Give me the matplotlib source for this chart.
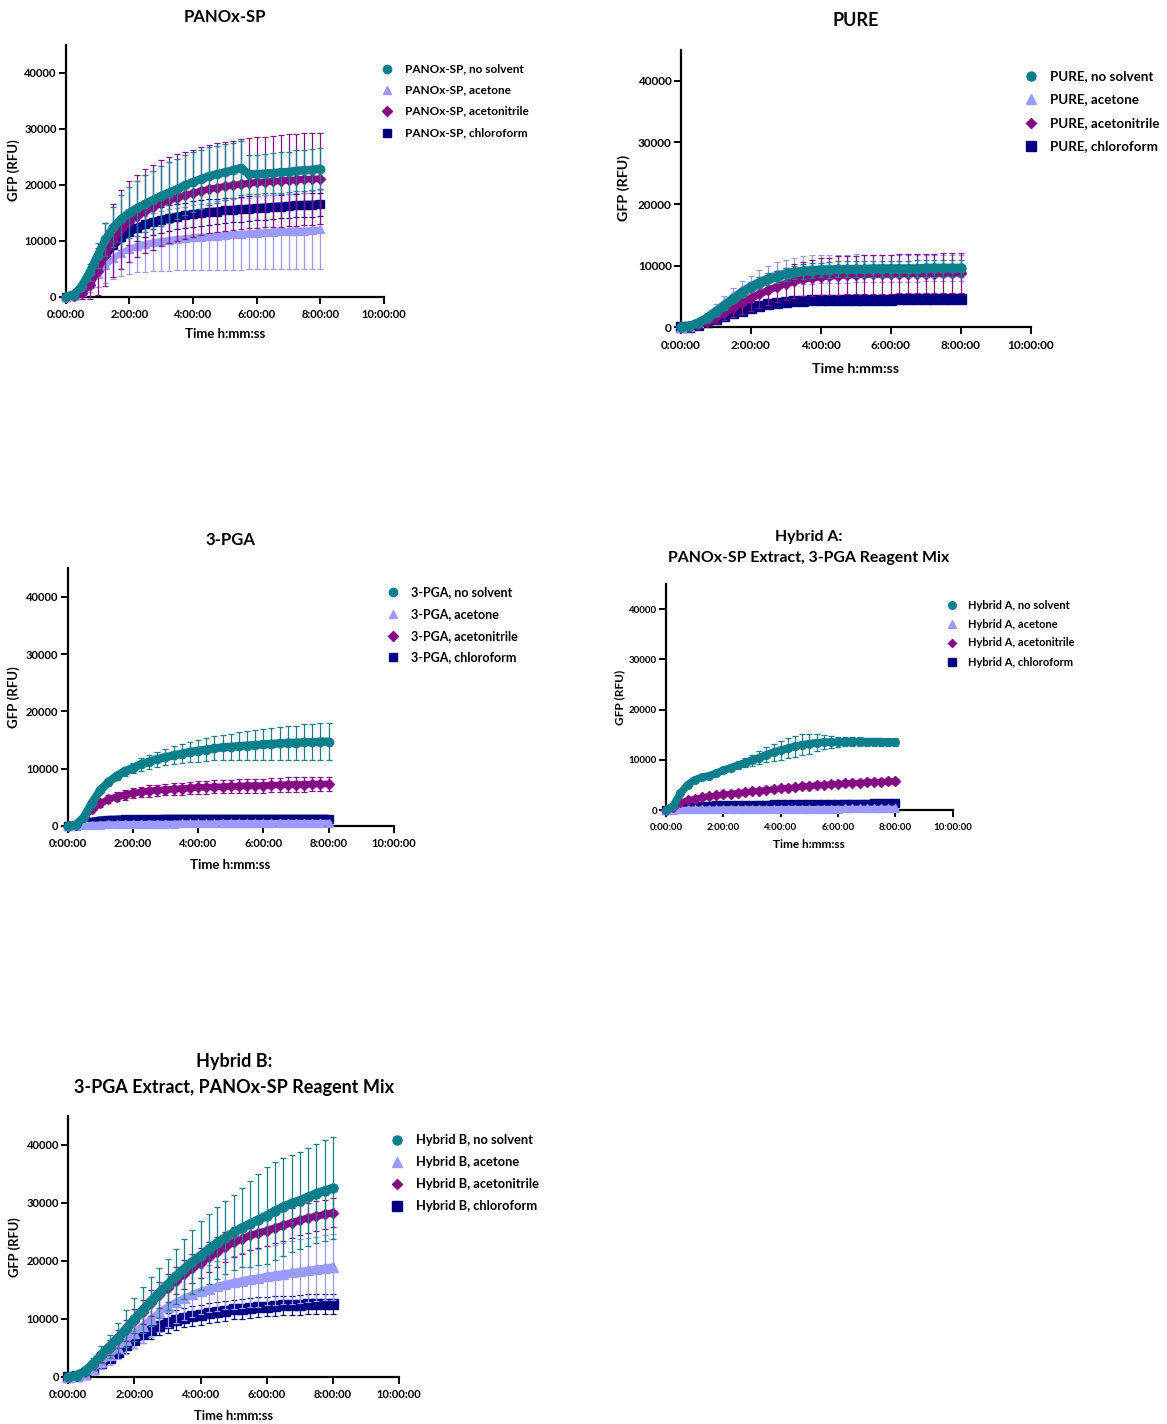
import numpy as np
import matplotlib.pyplot as plt
from matplotlib.lines import Line2D

plt.rcParams['font.family'] = ['Lato', 'DejaVu Sans']
plt.rcParams['font.weight'] = 'bold'

W, H = 1167, 1424

# time points (hours), one reading every 15 min
time_h = np.arange(0, 8.01, 0.25)
x_ticks = [0, 2, 4, 6, 8, 10]
x_ticklabels = ['0:00:00', '2:00:00', '4:00:00', '6:00:00', '8:00:00', '10:00:00']
y_ticks = [0, 10000, 20000, 30000, 40000]

conditions = ['no solvent', 'acetone', 'acetonitrile', 'chloroform']
colors = ['#0b7f8c', '#9b9bff', '#860a86', '#000080']
markers = ['o', '^', 'D', 's']

# ---- PANOx-SP ----
p1_none = [0, 300, 1800, 4300, 7300, 10200, 12400, 13900, 15000, 15800, 16600, 17300, 18000, 18600, 19200, 19900,
           20500, 21000, 21500, 21900, 22200, 22600, 23000, 21900, 21900, 22000, 22100, 22200, 22300, 22500, 22600,
           22700, 22900]
p1_none_sd = [100, 300, 800, 1500, 2200, 3000, 3600, 4200, 4600, 4900, 5100, 5200, 5300, 5400, 5400, 5400, 5400,
              5300, 5200, 5100, 5000, 4900, 4800, 3500, 3500, 3500, 3600, 3600, 3600, 3700, 3700, 3700, 3700]
p1_acetone = [0, 100, 800, 2200, 4000, 5600, 6800, 7800, 8500, 9000, 9400, 9700, 9900, 10100, 10300, 10400, 10600,
              10700, 10800, 10900, 11000, 11100, 11200, 11300, 11400, 11500, 11600, 11700, 11700, 11800, 11800,
              11900, 12000]
p1_acetone_sd = [100, 200, 600, 1400, 2300, 3100, 3700, 4100, 4400, 4700, 5000, 5200, 5400, 5500, 5600, 5700, 5800,
                 5900, 6000, 6100, 6200, 6300, 6400, 6400, 6500, 6600, 6600, 6700, 6700, 6800, 6800, 6900, 7000]
p1_acn = [0, 100, 600, 2000, 4500, 7500, 10000, 12000, 13400, 14400, 15300, 16000, 16700, 17200, 17700, 18100,
          18500, 18900, 19200, 19500, 19700, 19900, 20100, 20300, 20400, 20500, 20600, 20700, 20800, 20900, 21000,
          21000, 21100]
p1_acn_sd = [100, 300, 1000, 2500, 4200, 5600, 6500, 7000, 7200, 7400, 7500, 7600, 7700, 7700, 7800, 7800, 7800,
             7900, 7900, 7900, 8000, 8000, 8000, 8000, 8100, 8100, 8100, 8200, 8200, 8200, 8200, 8200, 8200]
p1_chcl3 = [0, 200, 1000, 2800, 5200, 7400, 9200, 10600, 11600, 12300, 12900, 13300, 13700, 14000, 14300, 14500,
            14700, 14900, 15100, 15200, 15400, 15500, 15600, 15700, 15800, 15900, 16000, 16100, 16200, 16300, 16400,
            16400, 16500]
p1_chcl3_sd = [100, 200, 500, 900, 1400, 1800, 2000, 2200, 2300, 2300, 2300, 2300, 2300, 2300, 2300, 2300, 2300,
               2300, 2300, 2200, 2200, 2200, 2200, 2200, 2200, 2200, 2100, 2100, 2100, 2100, 2100, 2100, 2100]

# ---- PURE ----
p2_none = [0, 200, 700, 1500, 2500, 3500, 4600, 5600, 6500, 7200, 7800, 8200, 8600, 8900, 9100, 9200, 9300, 9300,
           9400, 9400, 9400, 9400, 9500, 9500, 9500, 9500, 9500, 9500, 9600, 9600, 9600, 9600, 9600]
p2_none_sd = [50, 100, 200, 300, 400, 500, 600, 700, 800, 900, 1000, 1000, 1100, 1100, 1200, 1200, 1200, 1300, 1300,
              1300, 1300, 1300, 1300, 1300, 1300, 1300, 1300, 1400, 1400, 1400, 1400, 1400, 1400]
p2_acetone = [0, 200, 800, 1700, 2800, 3900, 5000, 6000, 6800, 7500, 8100, 8600, 8900, 9100, 9300, 9400, 9500, 9500,
              9500, 9500, 9600, 9600, 9600, 9600, 9600, 9600, 9600, 9600, 9600, 9600, 9600, 9600, 9600]
p2_acetone_sd = [50, 200, 400, 700, 900, 1100, 1300, 1500, 1600, 1800, 1900, 2000, 2100, 2200, 2200, 2300, 2300,
                 2300, 2300, 2300, 2300, 2200, 2200, 2200, 2200, 2200, 2200, 2200, 2100, 2100, 2100, 2100, 2100]
p2_acn = [0, 100, 400, 900, 1600, 2400, 3200, 4000, 4700, 5400, 6000, 6600, 7100, 7500, 7800, 8000, 8200, 8300, 8400,
          8500, 8500, 8600, 8600, 8600, 8600, 8700, 8700, 8700, 8700, 8700, 8800, 8800, 8800]
p2_acn_sd = [50, 100, 300, 600, 900, 1200, 1500, 1800, 2000, 2200, 2400, 2500, 2600, 2700, 2800, 2900, 3000, 3000,
             3100, 3100, 3100, 3200, 3200, 3200, 3200, 3200, 3200, 3200, 3200, 3200, 3200, 3200, 3200]
p2_chcl3 = [0, 100, 400, 800, 1300, 1800, 2300, 2700, 3100, 3400, 3700, 3900, 4100, 4200, 4300, 4400, 4400, 4400,
            4500, 4500, 4500, 4500, 4500, 4500, 4500, 4600, 4600, 4600, 4600, 4600, 4600, 4600, 4600]
p2_chcl3_sd = [50, 50, 100, 150, 200, 250, 300, 300, 350, 350, 400, 400, 400, 400, 400, 400, 400, 400, 400, 400, 400,
               400, 400, 400, 400, 400, 400, 400, 400, 400, 400, 400, 400]

# ---- 3-PGA ----
p3_none = [0, 100, 1500, 4000, 6200, 7600, 8700, 9500, 10100, 10700, 11200, 11600, 12000, 12300, 12600, 12900,
           13100, 13300, 13500, 13700, 13800, 13900, 14000, 14100, 14200, 14300, 14400, 14500, 14500, 14600, 14600,
           14700, 14700]
p3_none_sd = [50, 100, 200, 350, 500, 600, 700, 800, 900, 1050, 1200, 1300, 1400, 1550, 1650, 1800, 1900, 2000,
              2100, 2200, 2300, 2400, 2500, 2600, 2700, 2800, 2900, 2950, 3000, 3100, 3150, 3250, 3300]
p3_acetone = [0, 0, 100, 150, 200, 250, 250, 300, 300, 300, 350, 350, 350, 350, 400, 400, 400, 400, 400, 450, 450,
              450, 450, 450, 450, 450, 500, 500, 500, 500, 500, 500, 500]
p3_acetone_sd = [20, 20, 50, 80, 100, 100, 100, 100, 120, 120, 120, 120, 150, 150, 150, 150, 150, 150, 150, 150, 150,
                 150, 150, 150, 150, 150, 150, 150, 150, 150, 150, 150, 150]
p3_acn = [0, 100, 1500, 2900, 3900, 4600, 5100, 5400, 5700, 5900, 6100, 6200, 6300, 6400, 6500, 6600, 6700, 6700,
          6800, 6800, 6900, 6900, 7000, 7000, 7000, 7100, 7100, 7200, 7200, 7200, 7300, 7300, 7300]
p3_acn_sd = [50, 100, 300, 450, 600, 700, 800, 850, 900, 950, 1000, 1000, 1000, 1050, 1050, 1100, 1100, 1100, 1150,
             1150, 1150, 1200, 1200, 1200, 1200, 1250, 1250, 1250, 1250, 1300, 1300, 1300, 1300]
p3_chcl3 = [0, 50, 400, 700, 900, 1000, 1050, 1100, 1100, 1150, 1150, 1150, 1200, 1200, 1200, 1200, 1200, 1200, 1200,
            1200, 1200, 1200, 1200, 1200, 1200, 1200, 1200, 1200, 1200, 1200, 1200, 1200, 1200]
p3_chcl3_sd = [20, 20, 80, 120, 150, 150, 150, 150, 150, 150, 150, 150, 160, 160, 160, 160, 160, 160, 170, 170, 170,
               170, 170, 170, 170, 180, 180, 180, 180, 180, 180, 180, 180]

# ---- Hybrid A ----
p4_none = [0, 800, 3300, 5000, 6000, 6500, 6800, 7300, 7900, 8400, 8900, 9400, 9900, 10400, 11000, 11500, 11900,
           12300, 12700, 13000, 13200, 13400, 13500, 13500, 13500, 13600, 13600, 13600, 13600, 13600, 13600, 13500,
           13500]
p4_none_sd = [50, 200, 300, 300, 300, 300, 300, 400, 500, 600, 700, 900, 1100, 1300, 1500, 1700, 1900, 2000, 2100,
              2100, 2000, 1700, 1400, 1200, 1000, 900, 900, 900, 800, 800, 800, 800, 800]
p4_acetone = [0, 50, 100, 100, 150, 150, 150, 150, 200, 200, 200, 200, 200, 200, 200, 250, 250, 250, 250, 250, 250,
              250, 250, 250, 250, 300, 300, 300, 300, 300, 300, 300, 300]
p4_acetone_sd = [20, 20, 50, 50, 80, 80, 80, 80, 100, 100, 100, 100, 100, 100, 100, 100, 100, 100, 100, 100, 100,
                 100, 100, 100, 100, 100, 100, 100, 100, 100, 100, 100, 100]
p4_acn = [0, 500, 1500, 1900, 2200, 2500, 2700, 2900, 3100, 3200, 3400, 3500, 3700, 3800, 4000, 4100, 4300, 4400,
          4500, 4700, 4800, 4900, 5000, 5100, 5200, 5300, 5400, 5400, 5500, 5600, 5600, 5700, 5700]
p4_acn_sd = [50, 150, 250, 300, 300, 300, 300, 300, 300, 300, 300, 300, 300, 300, 300, 350, 350, 350, 350, 350, 350,
             400, 400, 400, 400, 400, 400, 400, 400, 450, 450, 450, 450]
p4_chcl3 = [0, 200, 500, 650, 750, 800, 850, 900, 950, 950, 1000, 1000, 1000, 1050, 1050, 1100, 1100, 1100, 1150,
            1150, 1150, 1200, 1200, 1200, 1200, 1250, 1250, 1250, 1250, 1300, 1300, 1300, 1300]
p4_chcl3_sd = [20, 50, 100, 150, 150, 150, 150, 150, 200, 200, 200, 200, 200, 200, 200, 200, 200, 200, 200, 200, 250,
               250, 250, 250, 250, 250, 250, 250, 250, 250, 250, 250, 250]

# ---- Hybrid B ----
p5_none = [0, 200, 900, 2200, 3800, 5200, 6700, 8300, 9900, 11500, 13000, 14500, 15900, 17300, 18600, 19800, 20900,
           22000, 23100, 24000, 24900, 25700, 26400, 27100, 27800, 28600, 29300, 29900, 30400, 31000, 31600, 32100,
           32500]
p5_none_sd = [100, 300, 600, 1000, 1500, 2000, 2600, 3200, 3700, 4000, 4200, 4300, 4400, 4800, 5200, 5600, 5900,
              6000, 6200, 6300, 6400, 6800, 7400, 7900, 8400, 8400, 8400, 8400, 8400, 8500, 8600, 8700, 8800]
p5_acetone = [0, 100, 500, 1400, 2500, 3700, 5000, 6300, 7600, 8800, 10000, 11100, 12100, 12900, 13600, 14200, 14800,
              15200, 15600, 16000, 16300, 16600, 16900, 17100, 17400, 17600, 17800, 18000, 18200, 18400, 18600,
              18800, 19000]
p5_acetone_sd = [100, 200, 400, 800, 1200, 1600, 2000, 2400, 2700, 3000, 3200, 3400, 3600, 3700, 3800, 3900, 4000,
                 4100, 4300, 4400, 4600, 4700, 4900, 5000, 5100, 5200, 5300, 5400, 5500, 5500, 5600, 5600, 5700]
p5_acn = [0, 200, 800, 2000, 3500, 5000, 6500, 8000, 9600, 11200, 12700, 14100, 15300, 16600, 17700, 18700, 19700,
          20600, 21500, 22400, 23200, 23800, 24400, 24800, 25200, 25700, 26100, 26600, 27000, 27400, 27700, 28000,
          28300]
p5_acn_sd = [100, 200, 400, 700, 1000, 1300, 1600, 1800, 2000, 2100, 2200, 2300, 2400, 2400, 2500, 2500, 2600, 2600,
             2600, 2600, 2600, 2600, 2600, 2600, 2600, 2600, 2600, 2600, 2600, 2600, 2600, 2500, 2500]
p5_chcl3 = [0, 100, 500, 1300, 2300, 3300, 4300, 5400, 6400, 7300, 8100, 8800, 9300, 9800, 10200, 10500, 10700,
            11000, 11200, 11400, 11600, 11700, 11900, 12000, 12100, 12200, 12300, 12300, 12400, 12500, 12500, 12600,
            12600]
p5_chcl3_sd = [50, 100, 300, 500, 700, 900, 1100, 1300, 1400, 1500, 1600, 1600, 1700, 1700, 1700, 1700, 1700, 1700,
               1700, 1700, 1700, 1700, 1700, 1700, 1700, 1700, 1700, 1700, 1700, 1700, 1700, 1700, 1700]


def fx(x):
    return x / W


def fy(y):
    return 1 - y / H


# layout in pixels: axis x0, x(10h), y(0), y(45000); titles; labels; legend
panels = [
    dict(name='PANOx-SP', box=(65.7, 384, 296.5, 45), title=[('PANOx-SP', 225, 17)], tfs=12,
         xlab=(225, 334), ylab=(14, 170), leg=(387, 405, [69, 90, 111, 133]), fs=8, lfs=8.5, afs=9.5, ms=6,
         data=[(p1_none, p1_none_sd), (p1_acetone, p1_acetone_sd), (p1_acn, p1_acn_sd), (p1_chcl3, p1_chcl3_sd)]),
    dict(name='PURE', box=(680.7, 1030.7, 327.3, 50), title=[('PURE', 856, 20)], tfs=13,
         xlab=(856, 369), ylab=(624, 188), leg=(1031, 1050, [76, 99, 123, 146]), fs=8.5, lfs=9.6, afs=10.3, ms=6.5,
         data=[(p2_none, p2_none_sd), (p2_acetone, p2_acetone_sd), (p2_acn, p2_acn_sd), (p2_chcl3, p2_chcl3_sd)]),
    dict(name='3-PGA', box=(67.6, 393.8, 825.7, 568.3), title=[('3-PGA', 230, 540)], tfs=12,
         xlab=(230, 865), ylab=(14, 697), leg=(393, 411, [592, 614, 636, 657]), fs=8, lfs=9, afs=9.5, ms=6,
         data=[(p3_none, p3_none_sd), (p3_acetone, p3_acetone_sd), (p3_acn, p3_acn_sd), (p3_chcl3, p3_chcl3_sd)]),
    dict(name='Hybrid A', box=(666, 952.7, 810, 584),
         title=[('Hybrid A:', 809, 537), ('PANOx-SP Extract, 3-PGA Reagent Mix', 809, 558)], tfs=11.4,
         xlab=(809, 845), ylab=(620, 697), leg=(952, 968, [605, 624, 643, 662]), fs=7, lfs=8, afs=8.5, ms=5.5,
         data=[(p4_none, p4_none_sd), (p4_acetone, p4_acetone_sd), (p4_acn, p4_acn_sd), (p4_chcl3, p4_chcl3_sd)]),
    dict(name='Hybrid B', box=(68.3, 399, 1376.7, 1116),
         title=[('Hybrid B:', 234, 1062), ('3-PGA Extract, PANOx-SP Reagent Mix', 234, 1088)], tfs=13,
         xlab=(234, 1416), ylab=(15, 1247), leg=(397, 416, [1140, 1162, 1184, 1206]), fs=8, lfs=9.3, afs=9.3,
         ms=6.5,
         data=[(p5_none, p5_none_sd), (p5_acetone, p5_acetone_sd), (p5_acn, p5_acn_sd), (p5_chcl3, p5_chcl3_sd)]),
]

fig = plt.figure(figsize=(W / 100, H / 100), dpi=100)

draw_order = [3, 1, 2, 0]
line_scale = {'o': 1.0, '^': 0.75, 'D': 0.8, 's': 1.0}

for p in panels:
    x0, x1, yb, yt = p['box']
    ax = fig.add_axes([fx(x0), fy(yb), (x1 - x0) / W, (yb - yt) / H])
    for k in draw_order:
        mean, sd = p['data'][k]
        z = 2 + draw_order.index(k)
        ax.errorbar(time_h, mean, yerr=sd, fmt='none', ecolor=colors[k], elinewidth=0.9,
                    capsize=2.4, capthick=0.9, clip_on=False, zorder=z)
        ax.plot(time_h, mean, color=colors[k], lw=p['ms'] * line_scale[markers[k]], marker=markers[k],
                ms=p['ms'] * (0.85 if markers[k] == 'D' else 1.0), mec=colors[k],
                solid_capstyle='butt', clip_on=False, zorder=z + 0.5)

    ax.set_xlim(0, 10)
    ax.set_ylim(0, 45000)
    ax.set_xticks(x_ticks)
    ax.set_xticklabels(x_ticklabels)
    ax.set_yticks(y_ticks)
    ax.set_yticklabels([str(v) for v in y_ticks])
    for side in ['top', 'right']:
        ax.spines[side].set_visible(False)
    for side in ['left', 'bottom']:
        ax.spines[side].set_linewidth(1.6)
    ax.tick_params(direction='out', length=5, width=1.4, labelsize=p['fs'])
    ax.tick_params(axis='x', pad=4)
    ax.tick_params(axis='y', pad=1.5)
    for lab in ax.get_xticklabels() + ax.get_yticklabels():
        lab.set_fontweight('bold')

    for txt, tx, ty in p['title']:
        fig.text(fx(tx), fy(ty), txt, ha='center', va='center', fontsize=p['tfs'], fontweight='bold')
    fig.text(fx(p['xlab'][0]), fy(p['xlab'][1]), 'Time h:mm:ss', ha='center', va='center',
             fontsize=p['afs'], fontweight='bold')
    fig.text(fx(p['ylab'][0]), fy(p['ylab'][1]), 'GFP (RFU)', ha='center', va='center', rotation=90,
             fontsize=p['afs'], fontweight='bold')

    mx, tx, rows = p['leg']
    for k, ry in enumerate(rows):
        fig.add_artist(Line2D([fx(mx)], [fy(ry)], marker=markers[k], color=colors[k], ls='none',
                              ms=p['ms'] * (0.8 if markers[k] == 'D' else 1.0), transform=fig.transFigure))
        fig.text(fx(tx), fy(ry), f"{p['name']}, {conditions[k]}", ha='left', va='center',
                 fontsize=p['lfs'], fontweight='bold')

fig.savefig('out.png', dpi=100)
